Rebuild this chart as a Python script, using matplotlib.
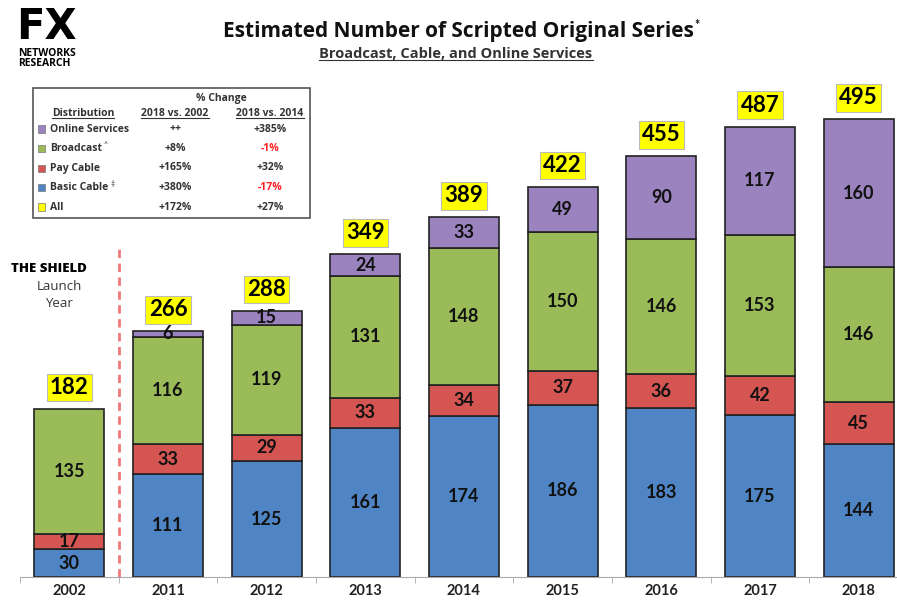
import matplotlib as mpl
mpl.use('Agg')
import matplotlib.pyplot as plt
import numpy as np

plt.rcParams['font.family'] = ['Lato', 'DejaVu Sans']

# data
years = ['2002', '2011', '2012', '2013', '2014', '2015', '2016', '2017', '2018']
basic_cable = [30, 111, 125, 161, 174, 186, 183, 175, 144]
pay_cable = [17, 33, 29, 33, 34, 37, 36, 42, 45]
broadcast = [135, 116, 119, 131, 148, 150, 146, 153, 146]
online = [0, 6, 15, 24, 33, 49, 90, 117, 160]
totals = [182, 266, 288, 349, 389, 422, 455, 487, 495]

# change table
dist_names = ['Online Services', 'Broadcast', 'Pay Cable', 'Basic Cable', 'All']
chg_2002 = ['++', '+8%', '+165%', '+380%', '+172%']
chg_2014 = ['+385%', '-1%', '+32%', '-17%', '+27%']

c_blue = '#4f85c4'
c_red = '#d45552'
c_green = '#9bbb59'
c_purple = '#9a83bf'
c_yellow = '#ffff00'
wide = ['Open Sans', 'DejaVu Sans']

fig = plt.figure(figsize=(8.97, 6), dpi=100)
ax = fig.add_axes([20/897, 23/600, 877/897, 517/600])

x = np.arange(len(years))
w = 0.71
series = [(basic_cable, c_blue), (pay_cable, c_red), (broadcast, c_green), (online, c_purple)]
bottom = np.zeros(len(years))
for vals, col in series:
	vals = np.array(vals)
	for i in range(len(years)):
		if vals[i] == 0:
			continue
		ax.bar(x[i], vals[i], w, bottom=bottom[i], color=col, edgecolor='#222222', linewidth=1.2)
		ax.text(x[i], bottom[i] + vals[i]/2.0, str(vals[i]), ha='center', va='center',
			fontsize=13, fontweight='bold', color='#111111')
	bottom = bottom + vals

for i in range(len(years)):
	ax.text(x[i], totals[i] + 23, str(totals[i]), ha='center', va='center', fontsize=16,
		fontweight='bold', color='black',
		bbox=dict(boxstyle='square,pad=0.15', facecolor=c_yellow, edgecolor='#bbbbbb', linewidth=0.8))

# THE SHIELD launch line
ax.plot([0.5, 0.5], [0, 358], color='#f07878', linestyle=(0, (3, 2)), linewidth=2)
ax.text(-0.21, 333, 'THE SHIELD', ha='center', va='center', fontsize=9.5, fontweight='black', color='black', family=wide)
ax.text(-0.1, 314, 'Launch', ha='center', va='center', fontsize=9.5, color='#333333', family=wide)
ax.text(-0.1, 296, 'Year', ha='center', va='center', fontsize=9.5, color='#333333', family=wide)

ax.set_xlim(-0.5, 8.39)
ax.set_ylim(0, 559)
ax.set_xticks(x)
ax.set_xticklabels(years, fontsize=10.5, fontweight='bold', color='#222222')
ax.set_xticks(np.arange(-0.5, 8.5, 1.0), minor=True)
ax.tick_params(axis='x', which='major', length=0, pad=5)
ax.tick_params(axis='x', which='minor', length=4, color='#aaaaaa')
ax.set_yticks([])
for sp in ['top', 'right', 'left']:
	ax.spines[sp].set_visible(False)
ax.spines['bottom'].set_color('#aaaaaa')

# titles
title = fig.text(458/897, 1 - 32/600, 'Estimated Number of Scripted Original Series', ha='center', va='center',
	fontsize=15, fontweight='bold', color='#111111', family=wide)
sub = fig.text(456/897, 1 - 54/600, 'Broadcast, Cable, and Online Services', ha='center', va='center',
	fontsize=10.5, fontweight='bold', color='#333333', family=wide)

# logo
fig.text(16/897, 1 - 48/600, 'FX', ha='left', va='bottom', fontsize=30, fontweight='black',
	color='black', family='DejaVu Sans')
fig.text(18/897, 1 - 48.5/600, 'NETWORKS', ha='left', va='top', fontsize=7.5, fontweight='bold', color='black', family=wide)
fig.text(18/897, 1 - 58.5/600, 'RESEARCH', ha='left', va='top', fontsize=7.5, fontweight='bold', color='black', family=wide)

# table box
tb = plt.Rectangle((33/897, 1 - 218/600), 277/897, 130/600, transform=fig.transFigure,
	facecolor='white', edgecolor='#555555', linewidth=1.2, zorder=5)
fig.patches.append(tb)
fs = 7.5
fig.text(221/897, 1 - 98/600, '% Change', ha='center', va='center', fontsize=fs, fontweight='bold', color='#333333', zorder=6, family=wide)
hdr = [fig.text(52/897, 1 - 113/600, 'Distribution', ha='left', va='center', fontsize=fs, fontweight='bold', color='#333333', zorder=6, family=wide),
	fig.text(175/897, 1 - 113/600, '2018 vs. 2002', ha='center', va='center', fontsize=fs, fontweight='bold', color='#333333', zorder=6, family=wide),
	fig.text(270/897, 1 - 113/600, '2018 vs. 2014', ha='center', va='center', fontsize=fs, fontweight='bold', color='#333333', zorder=6, family=wide)]
sq_cols = [c_purple, c_green, c_red, c_blue, c_yellow]
sups = ['', '^', '', '\u2021', '']
for k in range(len(dist_names)):
	yy = 1 - (129 + 19.5*k)/600
	fig.patches.append(plt.Rectangle((38/897, yy - 3.5/600), 7/897, 7/600, transform=fig.transFigure,
		facecolor=sq_cols[k], edgecolor='#777777', linewidth=0.5, zorder=6))
	t = fig.text(50/897, yy, dist_names[k], ha='left', va='center', fontsize=fs, fontweight='bold', color='#333333', zorder=6, family=wide)
	if sups[k]:
		fig.canvas.draw()
		bb = t.get_window_extent()
		fig.text((bb.x1 + 2)/897, yy + 4/600, sups[k], ha='left', va='center', fontsize=5, color='#333333', zorder=6)
	fig.text(175/897, yy, chg_2002[k], ha='center', va='center', fontsize=fs, fontweight='bold', color='#333333', zorder=6, family=wide)
	col = '#ff2020' if chg_2014[k].startswith('-') else '#333333'
	fig.text(270/897, yy, chg_2014[k], ha='center', va='center', fontsize=fs, fontweight='bold', color=col, zorder=6, family=wide)

# underlines and the title asterisk
fig.canvas.draw()
for t in hdr + [sub]:
	bb = t.get_window_extent()
	fig.add_artist(plt.Line2D([bb.x0/897, bb.x1/897], [(bb.y0 + 1)/600, (bb.y0 + 1)/600],
		transform=fig.transFigure, color='#333333', linewidth=0.8, zorder=6))
tbb = title.get_window_extent()
fig.text((tbb.x1 + 1)/897, (tbb.y1 - 3)/600, '*', ha='left', va='center', fontsize=9, fontweight='bold', color='#111111')

fig.savefig('out.png', dpi=100)
